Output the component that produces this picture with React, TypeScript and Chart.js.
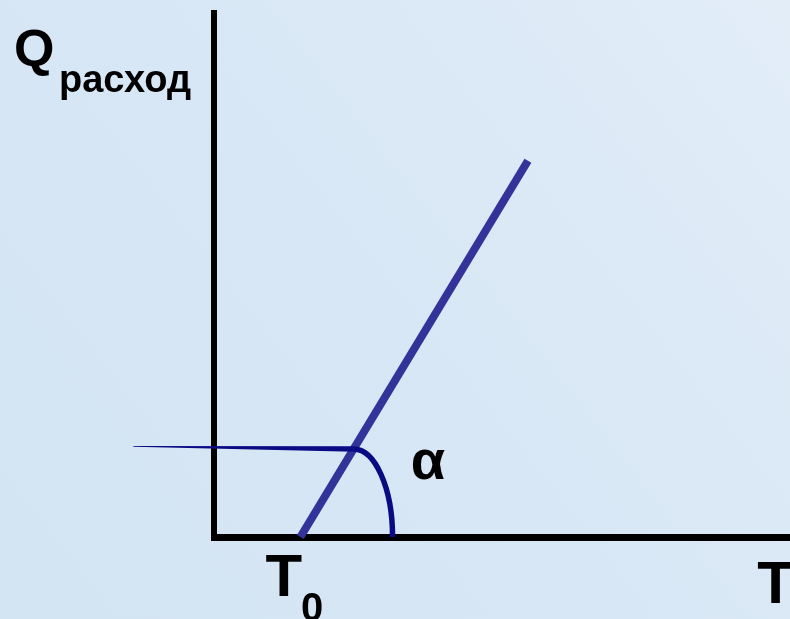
import React, { useEffect, useRef } from "react";
import { Chart, registerables } from "chart.js";

Chart.register(...registerables);

// Axis ranges (abstract units of temperature T and flow Q)
const xRange = [0, 10];
const yRange = [0, 10];

// Consumption line Q(T): starts at T0 on the T axis
const t0 = 1.5;
const lineT = [t0, 5.45];
const lineQ = [0, 7.18];

// Thin guide that runs in from the left to the line, and the angle arc under it
const guideT = [-1.4, 2.424];
const guideQ = [1.73, 1.68];
const arcEndT = 3.1;

// Text labels and where they sit
const tLabelPos = 9.75;
const alphaPos = [3.73, 1.39];
const qMain = "Q";
const qSub = "расход";
const tMain = "T";
const tSub = "0";
const alpha = "α";

const FONT = '"Liberation Sans", Arial, sans-serif';
const LINE_COLOR = "#333399";
const ARC_COLOR = "#0a0a84";

const decor = {
  id: "decor",
  beforeDraw(chart: any) {
    const { ctx, width, height } = chart;
    ctx.save();
    const g = ctx.createLinearGradient(0, height, width, 0);
    g.addColorStop(0, "#d3e4f3");
    g.addColorStop(0.5, "#d8e7f5");
    g.addColorStop(1, "#e2edf8");
    ctx.fillStyle = g;
    ctx.fillRect(0, 0, width, height);
    ctx.restore();
  },
  afterDatasetsDraw(chart: any) {
    const { ctx } = chart;
    const xs = chart.scales.x;
    const ys = chart.scales.y;
    const x0 = xs.getPixelForValue(guideT[0]);
    const y0 = ys.getPixelForValue(guideQ[0]);
    const x1 = xs.getPixelForValue(guideT[1]);
    const y1 = ys.getPixelForValue(guideQ[1]);
    ctx.save();
    // tapered guide line
    ctx.fillStyle = ARC_COLOR;
    ctx.beginPath();
    ctx.moveTo(x0, y0 - 0.4);
    ctx.lineTo(x1, y1 - 2.8);
    ctx.lineTo(x1, y1 + 2.8);
    ctx.lineTo(x0, y0 + 0.4);
    ctx.closePath();
    ctx.fill();
    // quarter arc marking the angle
    const cy = ys.getPixelForValue(0);
    const rx = xs.getPixelForValue(arcEndT) - x1;
    const ry = cy - y1;
    ctx.strokeStyle = ARC_COLOR;
    ctx.lineWidth = 5.5;
    ctx.beginPath();
    ctx.ellipse(x1, cy, rx, ry, 0, -Math.PI / 2, 0);
    ctx.stroke();
    ctx.restore();
  },
  afterDraw(chart: any) {
    const { ctx } = chart;
    const xs = chart.scales.x;
    const ys = chart.scales.y;
    ctx.save();
    ctx.fillStyle = "#000";
    ctx.textBaseline = "alphabetic";
    ctx.textAlign = "left";
    // Q_расход
    ctx.font = `bold 52px ${FONT}`;
    ctx.fillText(qMain, 14, 66);
    ctx.font = `bold 38px ${FONT}`;
    ctx.fillText(qSub, 59, 92);
    // T0 under the start of the line
    const t0x = xs.getPixelForValue(t0);
    ctx.font = `bold 60px ${FONT}`;
    ctx.fillText(tMain, t0x - 35, 596);
    ctx.font = `bold 40px ${FONT}`;
    ctx.fillText(tSub, t0x + 0.5, 621);
    // T at the end of the axis
    ctx.textAlign = "center";
    ctx.font = `bold 60px ${FONT}`;
    ctx.fillText(tMain, xs.getPixelForValue(tLabelPos), 603);
    // α
    ctx.textAlign = "left";
    ctx.font = `bold 56px ${FONT}`;
    ctx.fillText(alpha, xs.getPixelForValue(alphaPos[0]) - 18, ys.getPixelForValue(alphaPos[1]) + 15);
    ctx.restore();
  },
};

export default function App() {
  const ref = useRef<HTMLCanvasElement>(null);
  useEffect(() => {
    if (!ref.current) return;
    const chart = new Chart(ref.current, {
      type: "line",
      data: {
        datasets: [
          {
            data: lineT.map((t, i) => ({ x: t, y: lineQ[i] })),
            borderColor: LINE_COLOR,
            borderWidth: 8,
            borderCapStyle: "butt",
            pointRadius: 0,
            fill: false,
            clip: false as any,
          },
        ],
      },
      options: {
        animation: false,
        responsive: false,
        devicePixelRatio: 1,
        layout: { padding: { left: 214, right: 0, top: 13, bottom: 82 } },
        plugins: { legend: { display: false }, tooltip: { enabled: false } },
        scales: {
          x: {
            type: "linear",
            min: xRange[0],
            max: xRange[1],
            z: 1,
            grid: { display: false, drawTicks: false },
            ticks: { display: false },
            border: { display: true, color: "#000", width: 7 },
          },
          y: {
            type: "linear",
            min: yRange[0],
            max: yRange[1],
            z: 1,
            grid: { display: false, drawTicks: false },
            ticks: { display: false },
            border: { display: true, color: "#000", width: 6 },
          },
        },
      },
      plugins: [decor],
    });
    return () => chart.destroy();
  }, []);
  return (
    <div style={{ position: "fixed", left: 0, top: 0, width: 790, height: 619 }}>
      <canvas ref={ref} width={790} height={619} style={{ display: "block" }} />
    </div>
  );
}
